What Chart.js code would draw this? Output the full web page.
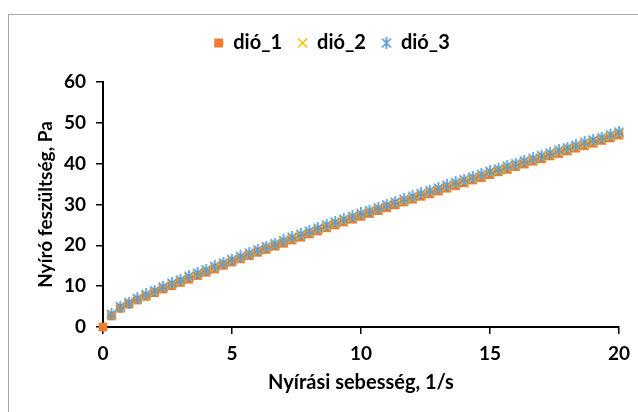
<!DOCTYPE html>
<html>
<head>
<meta charset="utf-8">
<script src="https://cdn.jsdelivr.net/npm/chart.js@4/dist/chart.umd.min.js"></script>
<style>
  html, body { margin: 0; padding: 0; background: #ffffff; }
  #wrap { position: relative; width: 638px; height: 412px; overflow: hidden; background: #fff; }
  #frame { position: absolute; left: 8px; top: 14px; width: 700px; height: 500px;
           border-left: 1px solid #a6a6a6; border-top: 1px solid #a6a6a6; }
  #c { position: absolute; left: 0; top: 0; }
</style>
</head>
<body>
<div id="wrap">
  <div id="frame"></div>
  <canvas id="c" width="638" height="412"></canvas>
</div>
<script>
const shearRate = [0.33,0.67,1,1.33,1.67,2,2.33,2.67,3,3.33,3.67,4,4.33,4.67,5,5.33,5.67,6,6.33,6.67,7,7.33,7.67,8,8.33,8.67,9,9.33,9.67,10,10.33,10.67,11,11.33,11.67,12,12.33,12.67,13,13.33,13.67,14,14.33,14.67,15,15.33,15.67,16,16.33,16.67,17,17.33,17.67,18,18.33,18.67,19,19.33,19.67,20];
const dio1 = [2.7,4.6,5.6,6.6,7.5,8.4,9.3,10.1,10.9,11.7,12.6,13.4,14.2,15.1,15.9,16.7,17.5,18.3,19.0,19.8,20.5,21.3,22.0,22.8,23.5,24.3,25.0,25.7,26.4,27.1,27.8,28.5,29.2,29.9,30.6,31.3,32.0,32.6,33.3,34.0,34.6,35.3,36.0,36.6,37.3,38.0,38.6,39.3,39.9,40.6,41.2,41.9,42.5,43.1,43.8,44.4,45.0,45.7,46.3,47.0];
const dio2 = [2.9,4.8,5.9,6.8,7.8,8.7,9.6,10.5,11.3,12.2,13.0,13.8,14.6,15.5,16.3,17.1,17.9,18.6,19.4,20.2,21.0,21.7,22.5,23.2,24.0,24.7,25.4,26.1,26.9,27.6,28.3,29.0,29.7,30.4,31.0,31.7,32.4,33.1,33.8,34.4,35.1,35.8,36.4,37.1,37.8,38.4,39.1,39.7,40.4,41.0,41.7,42.3,42.9,43.6,44.2,44.8,45.5,46.1,46.7,47.4];
const dio3 = [3.1,5.0,6.0,7.0,8.0,8.9,9.8,10.7,11.5,12.4,13.2,14.0,14.9,15.7,16.5,17.3,18.1,18.9,19.7,20.4,21.2,22.0,22.7,23.5,24.2,25.0,25.7,26.4,27.1,27.8,28.5,29.2,29.9,30.6,31.3,32.0,32.7,33.4,34.0,34.7,35.4,36.1,36.7,37.4,38.1,38.7,39.4,40.0,40.7,41.3,42.0,42.6,43.3,43.9,44.5,45.2,45.8,46.4,47.1,47.7];
const originX = [0];
const originY = [0];
const seriesNames = ['dió_1', 'dió_2', 'dió_3'];
const xTitle = 'Nyírási sebesség, 1/s';
const yTitle = 'Nyíró feszültség, Pa';

function pts(xs, ys) { return xs.map((x, i) => ({ x: x, y: ys[i] })); }

// asterisk marker (x + vertical bar)
function asterisk(color, s) {
  const c = document.createElement('canvas');
  c.width = s; c.height = s;
  const g = c.getContext('2d');
  g.strokeStyle = color; g.lineWidth = 1.7; g.lineCap = 'butt';
  const m = s / 2, a = 1.5, b = s - 1.5;
  g.beginPath();
  g.moveTo(a, a); g.lineTo(b, b);
  g.moveTo(b, a); g.lineTo(a, b);
  g.moveTo(m, 0); g.lineTo(m, s);
  g.stroke();
  return c;
}

const FONT = 'Lato';
const ORANGE = '#ED7D31', YELLOW = '#FFC000', BLUE = '#5B9BD5';

// place the legend block like the reference (centre ~ x 332, y 43)
const legendPlace = {
  id: 'legendPlace',
  afterLayout(chart) {
    const lg = chart.legend;
    if (!lg) return;
    const dx = 332 - (lg.left + lg.right) / 2;
    const pad = lg.options.labels.padding;
    const fs = lg.options.labels.font.size;
    const dy = (43 - pad - fs / 2) - lg.top;
    lg.left += dx; lg.right += dx;
    lg.top += dy; lg.bottom += dy;
  }
};

new Chart(document.getElementById('c'), {
  type: 'scatter',
  data: {
    datasets: [
      { label: seriesNames[0], data: pts(originX.concat(shearRate), originY.concat(dio1)),
        pointStyle: 'rect', pointRadius: 6.2, backgroundColor: ORANGE, borderColor: ORANGE, borderWidth: 0, order: 2, clip: false },
      { label: seriesNames[1], data: pts(shearRate, dio2),
        pointStyle: 'crossRot', pointRadius: 6, backgroundColor: YELLOW, borderColor: YELLOW, borderWidth: 1.6, order: 1, clip: false },
      { label: seriesNames[2], data: pts(shearRate, dio3),
        pointStyle: asterisk(BLUE, 12), pointRadius: 6, backgroundColor: BLUE, borderColor: BLUE, borderWidth: 1.6, order: 0, clip: false }
    ]
  },
  plugins: [legendPlace],
  options: {
    responsive: false,
    animation: false,
    devicePixelRatio: 1,
    layout: { padding: { left: 8, right: 18, top: 36, bottom: 17 } },
    plugins: {
      tooltip: { enabled: false },
      legend: {
        display: true,
        position: 'top',
        labels: {
          usePointStyle: true,
          boxWidth: 9, boxHeight: 9,
          padding: 16,
          color: '#000',
          font: { family: FONT, size: 20, weight: 'bold' },
          sort: (a, b) => a.datasetIndex - b.datasetIndex
        }
      }
    },
    scales: {
      x: {
        type: 'linear', min: 0, max: 20,
        afterFit(scale) { scale.height = 68; },
        ticks: { stepSize: 5, color: '#000', padding: 8, font: { family: FONT, size: 19, weight: 'bold' } },
        grid: { drawOnChartArea: false, drawTicks: true, tickLength: 7, color: '#000', lineWidth: 1.5 },
        border: { display: true, color: '#000', width: 2 },
        title: { display: true, text: xTitle, color: '#000', padding: { top: 6, bottom: 0 },
                 font: { family: FONT, size: 20, weight: 'bold' } }
      },
      y: {
        type: 'linear', min: 0, max: 60,
        afterFit(scale) { scale.width = 95; },
        ticks: { stepSize: 10, color: '#000', padding: 10, font: { family: FONT, size: 19, weight: 'bold' } },
        grid: { drawOnChartArea: false, drawTicks: true, tickLength: 7, color: '#000', lineWidth: 1.5 },
        border: { display: true, color: '#000', width: 2 },
        title: { display: true, text: yTitle, color: '#000', padding: { top: 26, bottom: 6 },
                 font: { family: FONT, size: 19, weight: 'bold' } }
      }
    }
  }
});
</script>
</body>
</html>
